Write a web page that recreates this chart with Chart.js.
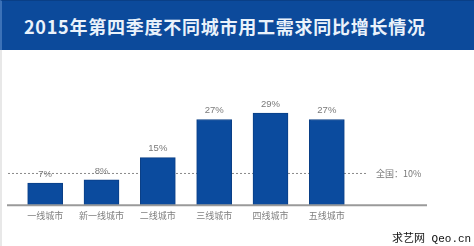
<!DOCTYPE html>
<html><head><meta charset="utf-8">
<script src="https://cdn.jsdelivr.net/npm/chart.js@4/dist/chart.umd.min.js"></script>
<style>
html,body{margin:0;padding:0;background:#fff;}
#wrap{position:relative;width:474px;height:246px;overflow:hidden;background:#fff;}
#edge{position:absolute;left:0;top:0;width:2px;height:246px;background:#e8e8e8;}
#hdr{position:absolute;left:0;top:0;width:474px;height:50px;background:#0c4a9b;border-top:1px solid #0a3f86;border-left:2px solid #3c72b8;box-sizing:border-box;}
#ttl{position:absolute;left:24px;top:13px;color:#eaf2fb;font:bold 18px "Noto Sans CJK SC",sans-serif;letter-spacing:0.75px;white-space:nowrap;line-height:26px;}
#cv{position:absolute;left:0;top:0;}
#wm{position:absolute;left:392px;top:229px;font-size:11px;color:#111;white-space:nowrap;line-height:16px;}
#wm .a{font-family:"Noto Sans CJK SC",sans-serif;}
#wm .b{font-family:"Liberation Mono","DejaVu Sans Mono",monospace;}
</style></head>
<body>
<div id="wrap">
<div id="edge"></div>
<div id="hdr"></div>
<div id="ttl">2015年第四季度不同城市用工需求同比增长情况</div>
<canvas id="cv" width="474" height="246"></canvas>
<div id="wm"><span class="a">求艺网</span><span class="b"> Qeo.cn</span></div>
</div>
<script>
const categories = ["一线城市","新一线城市","二线城市","三线城市","四线城市","五线城市"];
const growth = [7, 8, 15, 27, 29, 27];
const nationalValue = 10;
const nationalLabel = "全国：10%";

const deco = {
  id: 'deco',
  beforeDatasetsDraw(chart) {
    const {ctx, chartArea, scales} = chart;
    const y = scales.y.getPixelForValue(nationalValue);
    ctx.save();
    ctx.strokeStyle = '#8a8a8a';
    ctx.lineWidth = 1;
    ctx.setLineDash([2, 2]);
    ctx.beginPath();
    ctx.moveTo(chartArea.left - 9, y);
    ctx.lineTo(chartArea.right + 12, y);
    ctx.stroke();
    ctx.setLineDash([]);
    ctx.fillStyle = '#777';
    ctx.font = '9px "Noto Sans CJK SC", sans-serif';
    ctx.textBaseline = 'middle';
    ctx.textAlign = 'left';
    ctx.fillText(nationalLabel, chartArea.right + 21, y);
    ctx.restore();
  },
  afterDatasetsDraw(chart) {
    const {ctx, chartArea, scales} = chart;
    const y0 = scales.y.getPixelForValue(0);
    ctx.save();
    ctx.strokeStyle = '#9a9a9a';
    ctx.lineWidth = 2;
    ctx.beginPath();
    ctx.moveTo(chartArea.left - 10, y0);
    ctx.lineTo(chartArea.right + 72, y0);
    ctx.stroke();
    const meta = chart.getDatasetMeta(0);
    ctx.fillStyle = '#7a7a7a';
    ctx.font = '9.5px "Liberation Sans", Arial, sans-serif';
    ctx.textAlign = 'center';
    ctx.textBaseline = 'bottom';
    meta.data.forEach((bar, i) => {
      ctx.fillText(growth[i] + '%', bar.x, bar.y - 4);
    });
    ctx.restore();
  }
};

new Chart(document.getElementById('cv'), {
  type: 'bar',
  data: {
    labels: categories,
    datasets: [{
      data: growth,
      backgroundColor: '#0b4b9e',
      borderColor: '#0a3f86',
      borderWidth: 1,
      barThickness: 35
    }]
  },
  options: {
    responsive: false,
    animation: false,
    devicePixelRatio: 1,
    layout: { padding: { left: 17, right: 119, top: 110, bottom: 20 } },
    plugins: { legend: { display: false }, tooltip: { enabled: false }, title: { display: false } },
    scales: {
      x: {
        grid: { display: false, drawTicks: false },
        border: { display: false },
        ticks: { color: '#808080', padding: 5, font: { size: 9, family: '"Noto Sans CJK SC", sans-serif' } }
      },
      y: { display: false, min: 0, max: 30 }
    }
  },
  plugins: [deco]
});
</script>
</body></html>
